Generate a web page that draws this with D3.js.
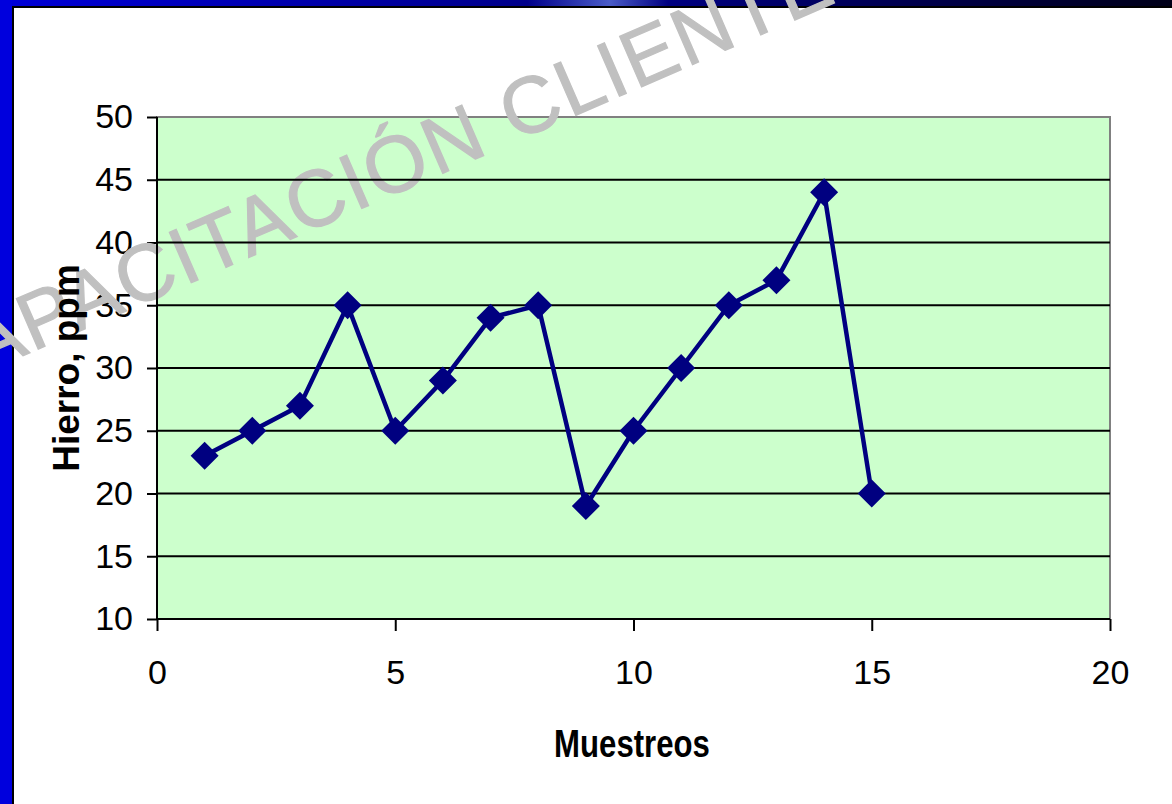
<!DOCTYPE html>
<html>
<head>
<meta charset="utf-8">
<script src="https://cdn.jsdelivr.net/npm/d3@7"></script>
<style>
  body { margin: 0; background: #fff; }
  svg { display: block; }
</style>
</head>
<body>
<svg id="chart"></svg>
<script>
// data
var muestreos = [1, 2, 3, 4, 5, 6, 7, 8, 9, 10, 11, 12, 13, 14, 15];
var hierro = [23, 25, 27, 35, 25, 29, 34, 35, 19, 25, 30, 35, 37, 44, 20];
var xTicks = [0, 5, 10, 15, 20];
var yTicks = [10, 15, 20, 25, 30, 35, 40, 45, 50];
var xTitle = 'Muestreos';
var yTitle = 'Hierro, ppm';
var watermark = 'CAPACITACIÓN CLIENTES';

var width = 1172, height = 804;
var plot = {left: 157, right: 1110, top: 117, bottom: 619};

var svg = d3.select('#chart')
    .attr('width', width)
    .attr('height', height);

// slide frame: blue bars on top and left
var defs = svg.append('defs');
var grad = defs.append('linearGradient').attr('id', 'topbar');
grad.append('stop').attr('offset', '0%').attr('stop-color', '#0000d8');
grad.append('stop').attr('offset', '45%').attr('stop-color', '#00008a');
grad.append('stop').attr('offset', '52%').attr('stop-color', '#4a5cc8');
grad.append('stop').attr('offset', '57%').attr('stop-color', '#000080');
grad.append('stop').attr('offset', '100%').attr('stop-color', '#000018');

svg.append('rect').attr('x', 0).attr('y', 0).attr('width', width).attr('height', 6)
    .style('fill', 'url(#topbar)');
svg.append('rect').attr('x', 0).attr('y', 6).attr('width', width).attr('height', 2)
    .style('fill', '#000');
svg.append('rect').attr('x', 0).attr('y', 0).attr('width', 12).attr('height', height)
    .style('fill', '#0000dd');
svg.append('rect').attr('x', 12).attr('y', 6).attr('width', 2).attr('height', height)
    .style('fill', '#000');

// scales
var x = d3.scaleLinear().domain([0, 20]).range([plot.left, plot.right]);
var y = d3.scaleLinear().domain([10, 50]).range([plot.bottom, plot.top]);

// plot area
svg.append('rect')
    .attr('x', x(0)).attr('y', y(50))
    .attr('width', x(20) - x(0)).attr('height', y(10) - y(50))
    .style('fill', '#ccffcc')
    .style('stroke', '#808080')
    .style('stroke-width', 2);

// axes
var font = '"Liberation Sans", Arial, sans-serif';

var yAxis = svg.append('g')
    .attr('transform', 'translate(' + x(0) + ',0)')
    .call(d3.axisLeft(y).tickValues(yTicks).tickSize(10).tickPadding(14).tickFormat(d3.format('d')));

var xAxis = svg.append('g')
    .attr('transform', 'translate(0,' + y(10) + ')')
    .call(d3.axisBottom(x).tickValues(xTicks).tickSize(12).tickPadding(29).tickFormat(d3.format('d')));

[xAxis, yAxis].forEach(function (g) {
    g.select('.domain').remove();
    g.selectAll('line').style('stroke', '#000').style('stroke-width', 2);
    g.selectAll('text')
        .style('font-family', font)
        .style('font-size', '34px')
        .style('fill', '#000');
});

// watermark
svg.append('text')
    .attr('transform', 'translate(-74,398) rotate(-23.5)')
    .attr('textLength', 1050)
    .attr('lengthAdjust', 'spacing')
    .style('font-family', font)
    .style('font-size', '80px')
    .style('fill', '#c0c0c0')
    .style('stroke', '#c0c0c0')
    .style('stroke-width', 1.2)
    .text(watermark);

// gridlines
svg.append('g').selectAll('line')
    .data(yTicks.filter(function (d) { return d > 10 && d < 50; }))
    .enter().append('line')
    .attr('x1', x(0)).attr('x2', x(20))
    .attr('y1', function (d) { return y(d); })
    .attr('y2', function (d) { return y(d); })
    .style('stroke', '#000')
    .style('stroke-width', 2);

// axis lines
svg.append('line')
    .attr('x1', x(0)).attr('x2', x(0)).attr('y1', y(50)).attr('y2', y(10))
    .style('stroke', '#000').style('stroke-width', 2);
svg.append('line')
    .attr('x1', x(0)).attr('x2', x(20)).attr('y1', y(10)).attr('y2', y(10))
    .style('stroke', '#000').style('stroke-width', 2);

// axis titles
svg.append('text')
    .attr('transform', 'translate(632,757) scale(0.82,1)')
    .attr('text-anchor', 'middle')
    .style('font-family', font)
    .style('font-size', '38px')
    .style('font-weight', 'bold')
    .text(xTitle);

svg.append('text')
    .attr('transform', 'translate(79,368) rotate(-90)')
    .attr('text-anchor', 'middle')
    .style('font-family', font)
    .style('font-size', '37px')
    .style('font-weight', 'bold')
    .text(yTitle);

// series
var points = muestreos.map(function (m, i) { return {x: m, y: hierro[i]}; });

var line = d3.line()
    .x(function (d) { return x(d.x); })
    .y(function (d) { return y(d.y); });

svg.append('path')
    .datum(points)
    .attr('d', line)
    .style('fill', 'none')
    .style('stroke', '#000080')
    .style('stroke-width', 4.5)
    .style('stroke-linejoin', 'round');

svg.selectAll('.marker')
    .data(points)
    .enter().append('path')
    .attr('class', 'marker')
    .attr('d', 'M0,-14L14,0L0,14L-14,0Z')
    .attr('transform', function (d) { return 'translate(' + x(d.x) + ',' + y(d.y) + ')'; })
    .style('fill', '#000080');
</script>
</body>
</html>
